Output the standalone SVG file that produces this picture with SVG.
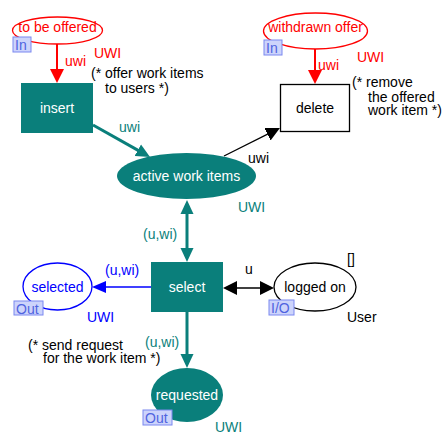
<svg xmlns="http://www.w3.org/2000/svg" width="444" height="438" viewBox="0 0 444 438">
  <defs>
    <style>
      text { font-family: "Liberation Sans", Arial, sans-serif; font-size: 14px; }
      .mid { text-anchor: middle; }
      .red { fill: #ff0000; }
      .teal { fill: #0a7f7b; }
      .blue { fill: #0000ff; }
      .black { fill: #000000; }
      .white { fill: #ffffff; }
      .trans { fill: #0a7f7b; stroke: none; }
      .placeT { fill: #0a7f7b; stroke: none; }
      .tag rect { fill: #cdd4fb; stroke: #7a88f0; stroke-width: 1; }
      .tag text { fill: #4f63e0; font-size: 14px; }
      .aRed { stroke: #ff0000; stroke-width: 2; fill: none; marker-end: url(#hRed); }
      .aTeal { stroke: #0a7f7b; stroke-width: 3; fill: none; marker-end: url(#hTeal); }
      .aTeal2 { stroke: #0a7f7b; stroke-width: 3; fill: none; marker-start: url(#hTeal); marker-end: url(#hTeal); }
      .aBlack { stroke: #000000; stroke-width: 1.3; fill: none; marker-end: url(#hBlack); }
      .aBlack2 { stroke: #000000; stroke-width: 1.3; fill: none; marker-start: url(#hBlack); marker-end: url(#hBlack); }
      .aBlue { stroke: #0000ff; stroke-width: 1.3; fill: none; marker-end: url(#hBlue); }
    </style>
    <marker id="hRed" markerUnits="userSpaceOnUse" markerWidth="14" markerHeight="14" refX="8" refY="7" orient="auto-start-reverse"><path d="M0,0 L14,7 L0,14 z" fill="#ff0000"/></marker>
    <marker id="hTeal" markerUnits="userSpaceOnUse" markerWidth="14" markerHeight="14" refX="8" refY="7" orient="auto-start-reverse"><path d="M0,0.5 L14,7 L0,13.5 z" fill="#0a7f7b"/></marker>
    <marker id="hBlack" markerUnits="userSpaceOnUse" markerWidth="14" markerHeight="14" refX="8" refY="7" orient="auto-start-reverse"><path d="M0,0 L14,7 L0,14 z" fill="#000000"/></marker>
    <marker id="hBlue" markerUnits="userSpaceOnUse" markerWidth="14" markerHeight="14" refX="8" refY="7" orient="auto-start-reverse"><path d="M0,1 L14,7 L0,13 z" fill="#0000ff"/></marker>
  </defs>

  <rect width="444" height="438" fill="#ffffff"/>

  <!-- arcs and their inscriptions -->
  <g id="connectors">
    <line class="aRed" x1="57" y1="44" x2="57" y2="77"/>
    <text class="red" x="65" y="66">uwi</text>

    <line class="aRed" x1="315" y1="49" x2="315" y2="78"/>
    <text class="red" x="318" y="70">uwi</text>

    <line class="aTeal" x1="93" y1="125" x2="144.8" y2="154.1"/>
    <text class="teal" x="119" y="132">uwi</text>

    <line class="aBlack" x1="224" y1="156" x2="274.6" y2="130.7"/>
    <text class="black" x="248" y="163">uwi</text>

    <line class="aTeal2" x1="187" y1="206" x2="187" y2="256"/>
    <text class="teal" x="143" y="239">(u,wi)</text>

    <line class="aBlack2" x1="229" y1="288" x2="268" y2="288"/>
    <text class="black" x="245" y="274">u</text>

    <line class="aBlue" x1="151" y1="287" x2="98" y2="287"/>
    <text class="blue" x="105" y="275">(u,wi)</text>

    <line class="aTeal" x1="187" y1="312" x2="187" y2="362"/>
    <text class="teal" x="145" y="347">(u,wi)</text>
  </g>

  <!-- places -->
  <g id="to-be-offered">
    <ellipse cx="57.5" cy="30.5" rx="45" ry="13.5" fill="#ffffff" stroke="#ff0000" stroke-width="1.3"/>
    <text class="red mid" x="57.5" y="32">to be offered</text>
    <g class="tag"><rect x="13" y="37" width="18" height="15"/><text x="15" y="50">In</text></g>
    <text class="red" x="94" y="58">UWI</text>
  </g>

  <g id="withdrawn-offer">
    <ellipse cx="315.5" cy="31" rx="52" ry="18" fill="#ffffff" stroke="#ff0000" stroke-width="1.3"/>
    <text class="red mid" x="315.5" y="32">withdrawn offer</text>
    <g class="tag"><rect x="264" y="40" width="18" height="15"/><text x="266" y="53">In</text></g>
    <text class="red" x="357" y="62">UWI</text>
  </g>

  <g id="active-work-items">
    <ellipse class="placeT" cx="186.5" cy="176" rx="69.5" ry="23"/>
    <text class="white mid" x="186.5" y="181">active work items</text>
    <text class="teal" x="238" y="212">UWI</text>
  </g>

  <g id="selected">
    <ellipse cx="57.5" cy="286.5" rx="34.5" ry="23.5" fill="#ffffff" stroke="#0000ff" stroke-width="1.3"/>
    <text class="blue mid" x="57.5" y="292">selected</text>
    <g class="tag"><rect x="14" y="301" width="29" height="14"/><text x="16" y="313.5">Out</text></g>
    <text class="blue" x="87" y="322">UWI</text>
  </g>

  <g id="logged-on">
    <ellipse cx="315" cy="287" rx="41" ry="24" fill="#ffffff" stroke="#000000" stroke-width="1.3"/>
    <text class="black mid" x="315" y="292">logged on</text>
    <g class="tag"><rect x="269" y="300" width="25" height="15"/><text x="271" y="313">I/O</text></g>
    <text class="black" x="347" y="264">[]</text>
    <text class="black" x="347" y="322">User</text>
  </g>

  <g id="requested">
    <ellipse class="placeT" cx="187" cy="395" rx="36" ry="27"/>
    <text class="white mid" x="187" y="400">requested</text>
    <g class="tag"><rect x="143" y="410" width="29" height="15"/><text x="145" y="423">Out</text></g>
    <text class="teal" x="215" y="432">UWI</text>
  </g>

  <!-- transitions -->
  <g id="insert">
    <rect class="trans" x="21" y="83" width="72" height="50"/>
    <text class="white mid" x="57" y="113">insert</text>
    <text class="black" x="91" y="78">(* offer work items</text>
    <text class="black" x="105" y="93">to users *)</text>
  </g>

  <g id="delete">
    <rect x="280.5" y="84.5" width="69" height="47" fill="#ffffff" stroke="#000000" stroke-width="1.3"/>
    <text class="black mid" x="315" y="113">delete</text>
    <text class="black" x="352" y="87">(* remove</text>
    <text class="black" x="368" y="102">the offered</text>
    <text class="black" x="368" y="115">work item *)</text>
  </g>

  <g id="select">
    <rect class="trans" x="151" y="262" width="72" height="50"/>
    <text class="white mid" x="187" y="292">select</text>
    <text class="black" x="28" y="350">(* send request</text>
    <text class="black" x="43" y="363">for the work item *)</text>
  </g>
</svg>
